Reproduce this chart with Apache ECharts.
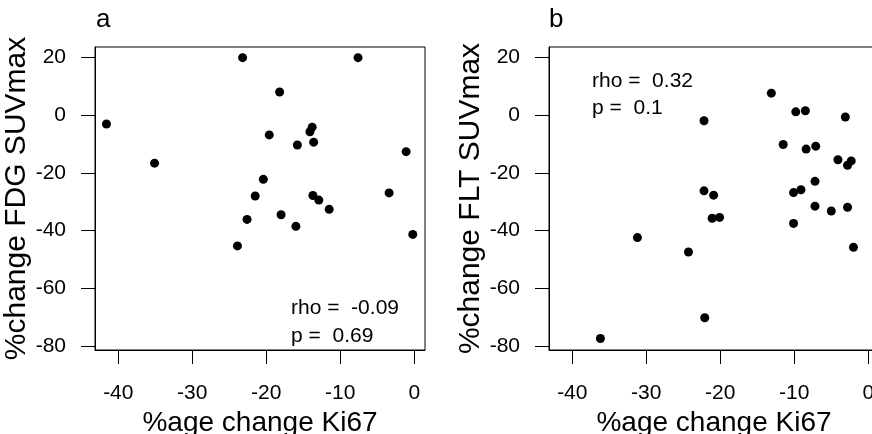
<!DOCTYPE html>
<html>
<head>
<meta charset="utf-8">
<script src="https://cdn.jsdelivr.net/npm/echarts@6/dist/echarts.min.js"></script>
<style>
html,body{margin:0;padding:0;background:#fff;}
#chart{width:872px;height:434px;}
</style>
</head>
<body>
<div id="chart"></div>
<script>
// Panel a: FDG
const fdgKi67 = [-41.6, -35.1, -23.2, -7.6, -18.2, -19.6, -15.8, -13.8, -14.1, -13.6, -1.1, -20.4, -21.5, -13.7, -12.9, -11.5, -3.4, -18.0, -22.6, -23.9, -16.0, -0.2];
const fdgSUV   = [-3.0, -16.6, 20.0, 20.0, 8.1, -6.8, -10.3, -4.1, -5.7, -9.3, -12.6, -22.2, -28.0, -27.8, -29.4, -32.6, -26.9, -34.5, -36.1, -45.3, -38.5, -41.3];
// Panel b: FLT
const fltKi67 = [-13.1, -22.2, -9.8, -8.5, -3.1, -11.5, -8.4, -7.1, -4.1, -2.3, -2.8, -7.2, -22.2, -20.9, -10.1, -9.1, -7.2, -5.0, -2.8, -21.1, -20.1, -10.1, -31.2, -24.3, -2.0, -22.1, -36.2];
const fltSUV   = [7.7, -1.9, 1.2, 1.6, -0.6, -10.1, -11.7, -10.7, -15.4, -15.8, -17.3, -22.9, -26.2, -27.7, -26.8, -25.8, -31.5, -33.2, -31.9, -35.7, -35.4, -37.5, -42.4, -47.4, -45.8, -70.2, -77.4];

const xTicks = [-40, -30, -20, -10, 0];
const yTicks = [-80, -60, -40, -20, 0, 20];
const panelLabels = ['a', 'b'];
const xTitle = '%age change Ki67';
const yTitles = ['%change FDG SUVmax', '%change FLT SUVmax'];
const statsA = ['rho =  -0.09', 'p =  0.69'];
const statsB = ['rho =  0.32', 'p =  0.1'];

const FONT = '"Liberation Sans", Arial, sans-serif';

function zip(a, b) { return a.map((v, i) => [v, b[i]]); }

function xAxisDef(gi) {
  return {
    type: 'value', gridIndex: gi, min: -43.15, max: 1.45, position: 'bottom',
    axisLine: { show: true, onZero: false, lineStyle: { color: '#000', width: 1 } },
    axisTick: { show: true, inside: false, length: 14, customValues: xTicks, lineStyle: { color: '#000', width: 1 } },
    axisLabel: { customValues: xTicks, margin: 33, fontSize: 21, color: '#000', fontFamily: FONT },
    splitLine: { show: false },
    name: xTitle, nameLocation: 'middle', nameGap: 53,
    nameTextStyle: { fontSize: 28, color: '#000', fontFamily: FONT }
  };
}
function yAxisDef(gi) {
  return {
    type: 'value', gridIndex: gi, min: -81.4, max: 23.7, position: 'left',
    axisLine: { show: true, onZero: false, lineStyle: { color: '#000', width: 1 } },
    axisTick: { show: true, inside: false, length: 14, customValues: yTicks, lineStyle: { color: '#000', width: 1 } },
    axisLabel: { customValues: yTicks, margin: 29, fontSize: 21, color: '#000', fontFamily: FONT },
    splitLine: { show: false },
    name: yTitles[gi], nameLocation: 'middle', nameGap: 57,
    nameTextStyle: { fontSize: 30, color: '#000', fontFamily: FONT }
  };
}

const txt = (x, y, s, size) => ({
  type: 'text', x: x, y: y,
  style: { text: s, fontSize: size, fill: '#000', font: size + 'px ' + FONT, verticalAlign: 'middle', align: 'left' }
});

const gridBase = { width: 330, height: 303, top: 47, show: true, borderColor: '#000', borderWidth: 1, backgroundColor: 'transparent', containLabel: false, outerBoundsMode: 'none' };

const chart = echarts.init(document.getElementById('chart'), null, { renderer: 'canvas' });
chart.setOption({
  animation: false,
  backgroundColor: '#fff',
  grid: [
    Object.assign({ left: 95 }, gridBase),
    Object.assign({ left: 549 }, gridBase)
  ],
  xAxis: [xAxisDef(0), xAxisDef(1)],
  yAxis: [yAxisDef(0), yAxisDef(1)],
  series: [
    { type: 'scatter', xAxisIndex: 0, yAxisIndex: 0, data: zip(fdgKi67, fdgSUV), symbol: 'circle', symbolSize: 9, itemStyle: { color: '#000', opacity: 1 } },
    { type: 'scatter', xAxisIndex: 1, yAxisIndex: 1, data: zip(fltKi67, fltSUV), symbol: 'circle', symbolSize: 9, itemStyle: { color: '#000', opacity: 1 } }
  ],
  graphic: [
    txt(96, 20, panelLabels[0], 26),
    txt(549, 20, panelLabels[1], 26),
    txt(291, 308, statsA[0], 21),
    txt(291, 336, statsA[1], 21),
    txt(592, 81, statsB[0], 21),
    txt(592, 108, statsB[1], 21)
  ]
});
</script>
</body>
</html>
